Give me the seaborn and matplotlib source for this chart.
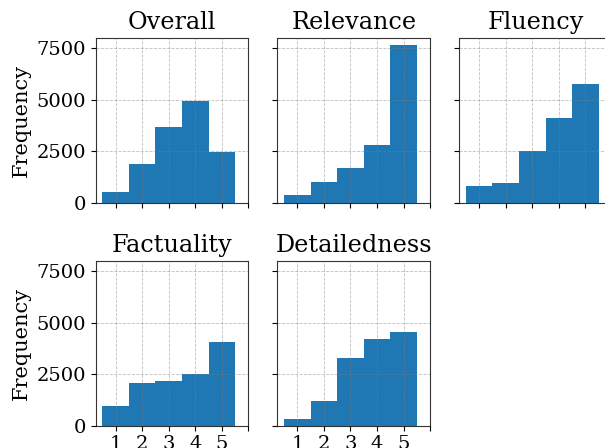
import matplotlib
matplotlib.use("Agg")
import matplotlib.pyplot as plt
import seaborn as sns
import pandas as pd

scores = [1, 2, 3, 4, 5]
aspects = ["Overall", "Relevance", "Fluency", "Factuality", "Detailedness"]
overall = [505, 1880, 3675, 4940, 2475]
relevance = [375, 1005, 1685, 2800, 7655]
fluency = [810, 955, 2495, 4125, 5760]
factuality = [955, 2075, 2170, 2495, 4065]
detailedness = [325, 1200, 3300, 4225, 4550]
counts = [overall, relevance, fluency, factuality, detailedness]

plt.rcParams["font.family"] = ["DejaVu Serif"]
plt.rcParams["font.size"] = 14

fig, axes = plt.subplots(2, 3, figsize=(6.05, 4.48), dpi=100, sharex=True, sharey=True)
fig.subplots_adjust(left=0.1582, right=1.0114, top=0.9158, bottom=0.0498,
                    wspace=0.191, hspace=0.352)

for i, (name, vals) in enumerate(zip(aspects, counts)):
    ax = axes.flat[i]
    df = pd.DataFrame({"score": scores, "count": vals})
    sns.histplot(data=df, x="score", weights="count", discrete=True, ax=ax,
                 color="#1f77b4", alpha=1, edgecolor="none", linewidth=0)
    ax.set_title(name, fontsize=17.2)
    ax.set_xlabel("")
    ax.set_ylabel("Frequency" if i % 3 == 0 else "", fontsize=15)
    ax.grid(True, linestyle="--", linewidth=0.6, color="gray", alpha=0.5)
    ax.set_axisbelow(False)
    for s in ax.spines.values():
        s.set_color("#333333")

axes.flat[5].remove()
axes[0, 2].tick_params(labelbottom=False)

ax = axes[1, 0]
ax.set_xlim(0.25, 6.0)
ax.set_xticks([1, 2, 3, 4, 5, 6])
ax.set_xticklabels(["1", "2", "3", "4", "5", ""])
ax.set_ylim(0, 8020)
ax.set_yticks([0, 2500, 5000, 7500])

fig.savefig("out.png", dpi=100)
